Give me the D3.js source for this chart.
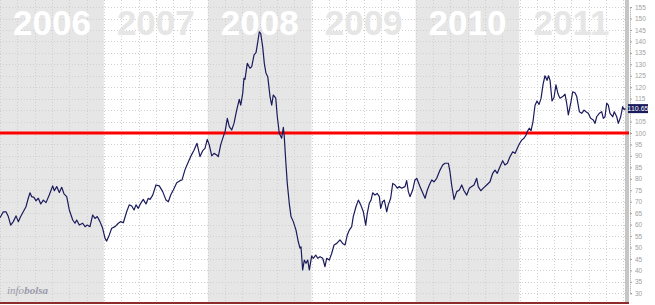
<!DOCTYPE html>
<html><head><meta charset="utf-8">
<script src="https://cdn.jsdelivr.net/npm/d3@7"></script>
<style>html,body{margin:0;padding:0;background:#fff;overflow:hidden}svg{display:block}</style>
</head><body>
<svg id="c" width="655" height="305"></svg>
<script>
// ---- data (time as decimal year, value in USD/barrel) ----
const years = [2006, 2007, 2008, 2009, 2010, 2011];
const times = [2006.000,2006.032,2006.058,2006.080,2006.103,2006.128,2006.154,2006.176,2006.199,2006.224,2006.250,2006.272,2006.289,2006.305,2006.327,2006.346,2006.369,2006.392,2006.417,2006.443,2006.474,2006.507,2006.523,2006.546,2006.571,2006.594,2006.616,2006.642,2006.667,2006.700,2006.722,2006.738,2006.763,2006.796,2006.818,2006.840,2006.866,2006.892,2006.914,2006.936,2006.962,2006.988,
2007.011,2007.027,2007.052,2007.075,2007.107,2007.139,2007.162,2007.187,2007.219,2007.244,2007.268,2007.290,2007.309,2007.331,2007.354,2007.379,2007.405,2007.427,2007.444,2007.470,2007.501,2007.533,2007.566,2007.598,2007.620,2007.643,2007.668,2007.701,2007.732,2007.752,2007.781,2007.809,2007.838,2007.867,2007.896,2007.925,2007.951,2007.973,2007.995,
2008.014,2008.038,2008.060,2008.086,2008.101,2008.124,2008.149,2008.166,2008.188,2008.207,2008.230,2008.252,2008.278,2008.303,2008.317,2008.336,2008.348,2008.358,2008.380,2008.406,2008.423,2008.445,2008.464,2008.476,2008.496,2008.509,2008.528,2008.544,2008.560,2008.577,2008.599,2008.615,2008.630,2008.654,2008.669,2008.688,2008.711,2008.727,2008.736,2008.750,2008.765,2008.784,2008.801,2008.823,2008.849,2008.871,2008.887,2008.897,2008.913,2008.929,2008.945,2008.962,2008.977,
2009.000,2009.015,2009.039,2009.058,2009.080,2009.106,2009.128,2009.144,2009.169,2009.193,2009.215,2009.241,2009.272,2009.298,2009.321,2009.343,2009.362,2009.385,2009.400,2009.426,2009.449,2009.472,2009.497,2009.520,2009.535,2009.554,2009.571,2009.587,2009.609,2009.631,2009.651,2009.664,2009.683,2009.699,2009.722,2009.737,2009.760,2009.780,2009.802,2009.824,2009.843,2009.866,2009.898,2009.914,2009.930,2009.946,2009.972,2009.994,
2010.011,2010.042,2010.091,2010.113,2010.132,2010.155,2010.177,2010.203,2010.235,2010.261,2010.283,2010.315,2010.331,2010.347,2010.370,2010.396,2010.421,2010.444,2010.466,2010.492,2010.517,2010.540,2010.562,2010.588,2010.603,2010.627,2010.652,2010.684,2010.716,2010.742,2010.764,2010.786,2010.812,2010.838,2010.860,2010.883,2010.909,2010.935,2010.957,2010.979,2010.998,
2011.021,2011.043,2011.063,2011.075,2011.094,2011.111,2011.130,2011.149,2011.168,2011.188,2011.207,2011.226,2011.245,2011.265,2011.279,2011.294,2011.313,2011.332,2011.351,2011.371,2011.390,2011.416,2011.438,2011.454,2011.470,2011.493,2011.512,2011.534,2011.551,2011.576,2011.599,2011.621,2011.640,2011.662,2011.685,2011.710,2011.727,2011.743,2011.768,2011.791,2011.807,2011.823,2011.839,2011.855,2011.871,2011.897,2011.912,2011.936,2011.951,2011.974,2011.993,2012.006,2012.020];
const prices = [63.0,65.6,65.6,63.5,59.8,61.3,63.8,61.3,63.5,65.6,67.8,71.5,73.9,72.2,71.9,70.4,71.5,69.0,70.7,69.6,72.9,76.9,74.8,76.6,74.0,76.3,73.4,72.2,66.4,62.0,60.6,62.0,59.8,60.6,59.1,59.8,59.1,64.2,62.7,63.5,61.3,58.4,
54.0,52.8,55.5,58.4,59.1,60.6,61.3,60.8,65.6,68.6,68.1,66.4,68.6,67.1,69.3,71.0,69.0,71.5,71.0,72.9,77.3,76.9,74.4,70.7,70.0,72.9,75.1,78.3,79.2,79.5,84.0,87.0,90.0,92.5,95.5,89.7,92.3,93.3,97.2,
94.8,90.0,91.1,90.4,89.7,94.8,98.4,100.6,106.4,102.8,101.3,104.2,110.0,114.7,112.2,117.3,123.9,123.4,130.4,128.3,129.0,134.1,135.1,138.4,144.2,143.5,137.7,130.4,126.1,124.6,115.9,112.2,116.6,115.2,107.1,99.9,97.7,102.5,98.4,88.0,78.0,69.3,63.5,61.3,57.6,52.5,49.7,50.3,40.2,44.5,43.1,44.5,40.2,
46.3,45.3,46.7,45.3,46.0,45.3,41.6,45.3,44.5,47.5,51.1,51.8,53.3,51.8,51.1,55.5,57.6,59.1,63.5,67.8,70.7,68.6,65.6,59.8,64.9,69.3,70.7,73.9,72.9,73.6,72.2,67.1,70.0,70.7,65.6,68.6,71.5,78.0,77.3,75.9,76.6,75.9,76.6,79.2,74.4,72.2,75.1,79.5,
80.2,76.6,71.5,75.1,77.3,79.5,78.7,80.2,83.8,86.0,86.8,86.8,83.1,77.3,71.0,74.4,75.1,77.3,74.8,72.9,75.9,76.6,77.3,80.2,76.6,74.8,75.9,77.3,78.7,82.4,83.8,82.4,85.3,87.9,86.0,86.8,89.7,91.8,91.1,93.3,95.2,
96.9,97.7,99.1,100.6,102.1,101.0,105.0,112.0,114.0,112.5,115.0,121.0,125.0,123.0,125.0,123.0,114.0,115.5,121.0,117.0,115.2,115.9,117.0,113.0,107.9,113.0,118.0,117.6,115.9,109.3,108.6,110.0,109.3,108.6,106.4,105.7,104.2,107.1,108.6,109.3,106.4,107.1,113.0,112.2,108.6,107.1,109.3,107.1,104.2,107.1,111.5,110.3,110.65];
const yTicks = d3.range(30, 156, 5);
const referenceLevel = 100;
const lastLabel = "110.65";
const watermarkA = "info", watermarkB = "bolsa";

// ---- layout ----
const svg = d3.select("#c");
const plotRight = 625, axisX = 630, plotBottom = 302;
const x = d3.scaleLinear().domain([2006, 2012]).range([0, 623.4]);
const y = d3.scaleLinear().domain([30, 155]).range([293.3, 7.05]);

// year bands
svg.append("g").selectAll("rect").data(years).join("rect")
  .attr("x", d => x(d)).attr("y", 0)
  .attr("width", d => (d === 2011 ? plotRight : x(d + 1)) - x(d))
  .attr("height", plotBottom)
  .attr("fill", (d, i) => i % 2 === 0 ? "#e6e6e6" : "#ffffff");

// grid
const grid = svg.append("g").attr("stroke", "#d0d0d0").attr("stroke-width", 1).attr("stroke-dasharray", "1,2");
grid.selectAll("line.h").data(yTicks).join("line")
  .attr("x1", 0).attr("x2", plotRight)
  .attr("y1", d => Math.round(y(d)) + 0.5).attr("y2", d => Math.round(y(d)) + 0.5);
const vGrid = d3.range(2006, 2012.001, 1 / 6);
grid.selectAll("line.v").data(vGrid).join("line")
  .attr("x1", d => Math.round(x(d)) + 0.5).attr("x2", d => Math.round(x(d)) + 0.5)
  .attr("y1", 0).attr("y2", plotBottom);

// year labels
svg.append("g").selectAll("text").data(years).join("text")
  .attr("x", d => (x(d) + Math.min(x(d + 1), plotRight)) / 2)
  .attr("y", 35)
  .attr("text-anchor", "middle")
  .attr("font-family", "Liberation Sans, Arial, sans-serif")
  .attr("font-weight", "bold").attr("font-size", 35)
  .attr("fill", (d, i) => i % 2 === 0 ? "#ffffff" : "#e6e6e6")
  .text(d => d);

// right gray strip
svg.append("rect").attr("x", plotRight).attr("y", 0).attr("width", 4).attr("height", plotBottom).attr("fill", "#c6c6c6");

// reference line
svg.append("line").attr("x1", 0).attr("x2", plotRight + 4)
  .attr("y1", y(referenceLevel)).attr("y2", y(referenceLevel))
  .attr("stroke", "#ff0000").attr("stroke-width", 3);

// price line
const pts = times.map((t, i) => [t, prices[i]]);
svg.append("path").datum(pts)
  .attr("fill", "none").attr("stroke", "#1b1b5c").attr("stroke-width", 1.2)
  .attr("stroke-linejoin", "round")
  .attr("d", d3.line().x(d => x(d[0])).y(d => y(d[1])));

// bottom border
svg.append("line").attr("x1", 0).attr("x2", plotRight + 4).attr("y1", 303).attr("y2", 303)
  .attr("stroke", "#8e2b2b").attr("stroke-width", 2);

// right axis (the 110 label sits under the last-price box in the reference)
const lastVal = prices[prices.length - 1];
const ax = svg.append("g").attr("transform", `translate(${axisX},0)`)
  .call(d3.axisRight(y).tickValues(yTicks).tickSize(2).tickPadding(3)
    .tickFormat(d => Math.abs(d - lastVal) < 3 ? "" : d));
ax.select(".domain").attr("stroke", "#a0a0a0").attr("stroke-dasharray", "1,1");
ax.selectAll(".tick line").attr("stroke", "#a0a0a0");
ax.selectAll(".tick text").attr("fill", "#a0a0a0").attr("font-size", 6.5)
  .attr("font-family", "Liberation Sans, Arial, sans-serif");

// last price label
const ly = y(lastVal);
svg.append("rect").attr("x", 628).attr("y", ly - 4.5).attr("width", 20).attr("height", 9).attr("fill", "#1b1b5c");
svg.append("text").attr("x", 638).attr("y", ly + 2.5).attr("text-anchor", "middle")
  .attr("font-family", "Liberation Sans, Arial, sans-serif").attr("font-size", 7)
  .attr("fill", "#ffffff").text(lastLabel);

// watermark
const wm = svg.append("text").attr("x", 7).attr("y", 294)
  .attr("font-family", "Liberation Serif, serif").attr("font-style", "italic")
  .attr("font-size", 11).attr("fill", "#9a9aaa");
wm.append("tspan").text(watermarkA);
wm.append("tspan").attr("font-weight", "bold").text(watermarkB);
</script>
</body></html>
